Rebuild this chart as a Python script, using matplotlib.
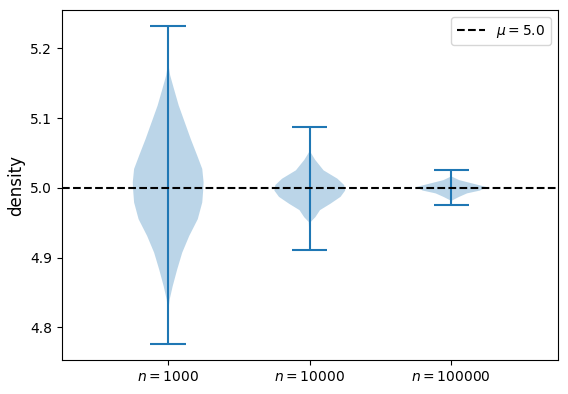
import numpy as np
import matplotlib
matplotlib.use("Agg")
import matplotlib.pyplot as plt

# ---------- data ----------
labels = ["$n = 1000$", "$n = 10000$", "$n = 100000$"]
mu = 5.0

# extrema of each sample
mins = [4.776, 4.911, 4.976]
maxs = [5.232, 5.087, 5.025]

# density profile (relative) along the value axis
coords_1000 = [4.776, 4.800, 4.826, 4.840, 4.859, 4.883, 4.907, 4.931, 4.955,
               4.979, 4.998, 5.008, 5.027, 5.046, 5.070, 5.094, 5.118, 5.142,
               5.161, 5.176, 5.200, 5.232]
dens_1000 = [0.05, 0.1, 0.3, 1.5, 4.5, 9.0, 14.0, 21.0, 29.5,
             34.0, 35.0, 35.3, 34.0, 29.0, 22.5, 16.5, 10.5, 5.7,
             2.0, 0.3, 0.1, 0.05]

coords_10000 = [4.911, 4.930, 4.951, 4.958, 4.968, 4.977, 4.987, 4.996,
                5.004, 5.013, 5.025, 5.040, 5.052, 5.070, 5.087]
dens_10000 = [0.05, 0.1, 1.0, 5.5, 10.0, 20.0, 30.0, 34.5,
              33.5, 27.0, 13.5, 5.3, 0.3, 0.1, 0.05]

coords_100000 = [4.976, 4.982, 4.987, 4.992, 4.996, 5.001, 5.006, 5.011,
                 5.016, 5.020, 5.025]
dens_100000 = [0.05, 1.0, 8.0, 16.0, 29.0, 36.0, 22.0, 8.0,
               0.5, 0.1, 0.05]

coords = [coords_1000, coords_10000, coords_100000]
dens = [dens_1000, dens_10000, dens_100000]

vpstats = []
for c, d, lo, hi in zip(coords, dens, mins, maxs):
    c = np.array(c)
    d = np.array(d)
    vpstats.append({"coords": c, "vals": d, "mean": mu, "median": mu,
                    "min": lo, "max": hi})

# ---------- plot ----------
fig = plt.figure(figsize=(5.68, 3.94), dpi=100)
ax = fig.add_axes([62 / 568, 1 - 360 / 394, 495.5 / 568, 350 / 394])

positions = [1, 2, 3]
ax.violin(vpstats, positions=positions, widths=0.5)
ax.axhline(mu, color="black", linestyle="--", label=r"$\mu = 5.0$")

ax.set_xlim(0.25, 3.75)
ax.set_xticks(positions)
ax.set_xticklabels(labels)
ax.set_ylabel("density", fontsize=12)
ax.legend(loc="upper right")

fig.savefig("out.png", dpi=100)
plt.close(fig)
